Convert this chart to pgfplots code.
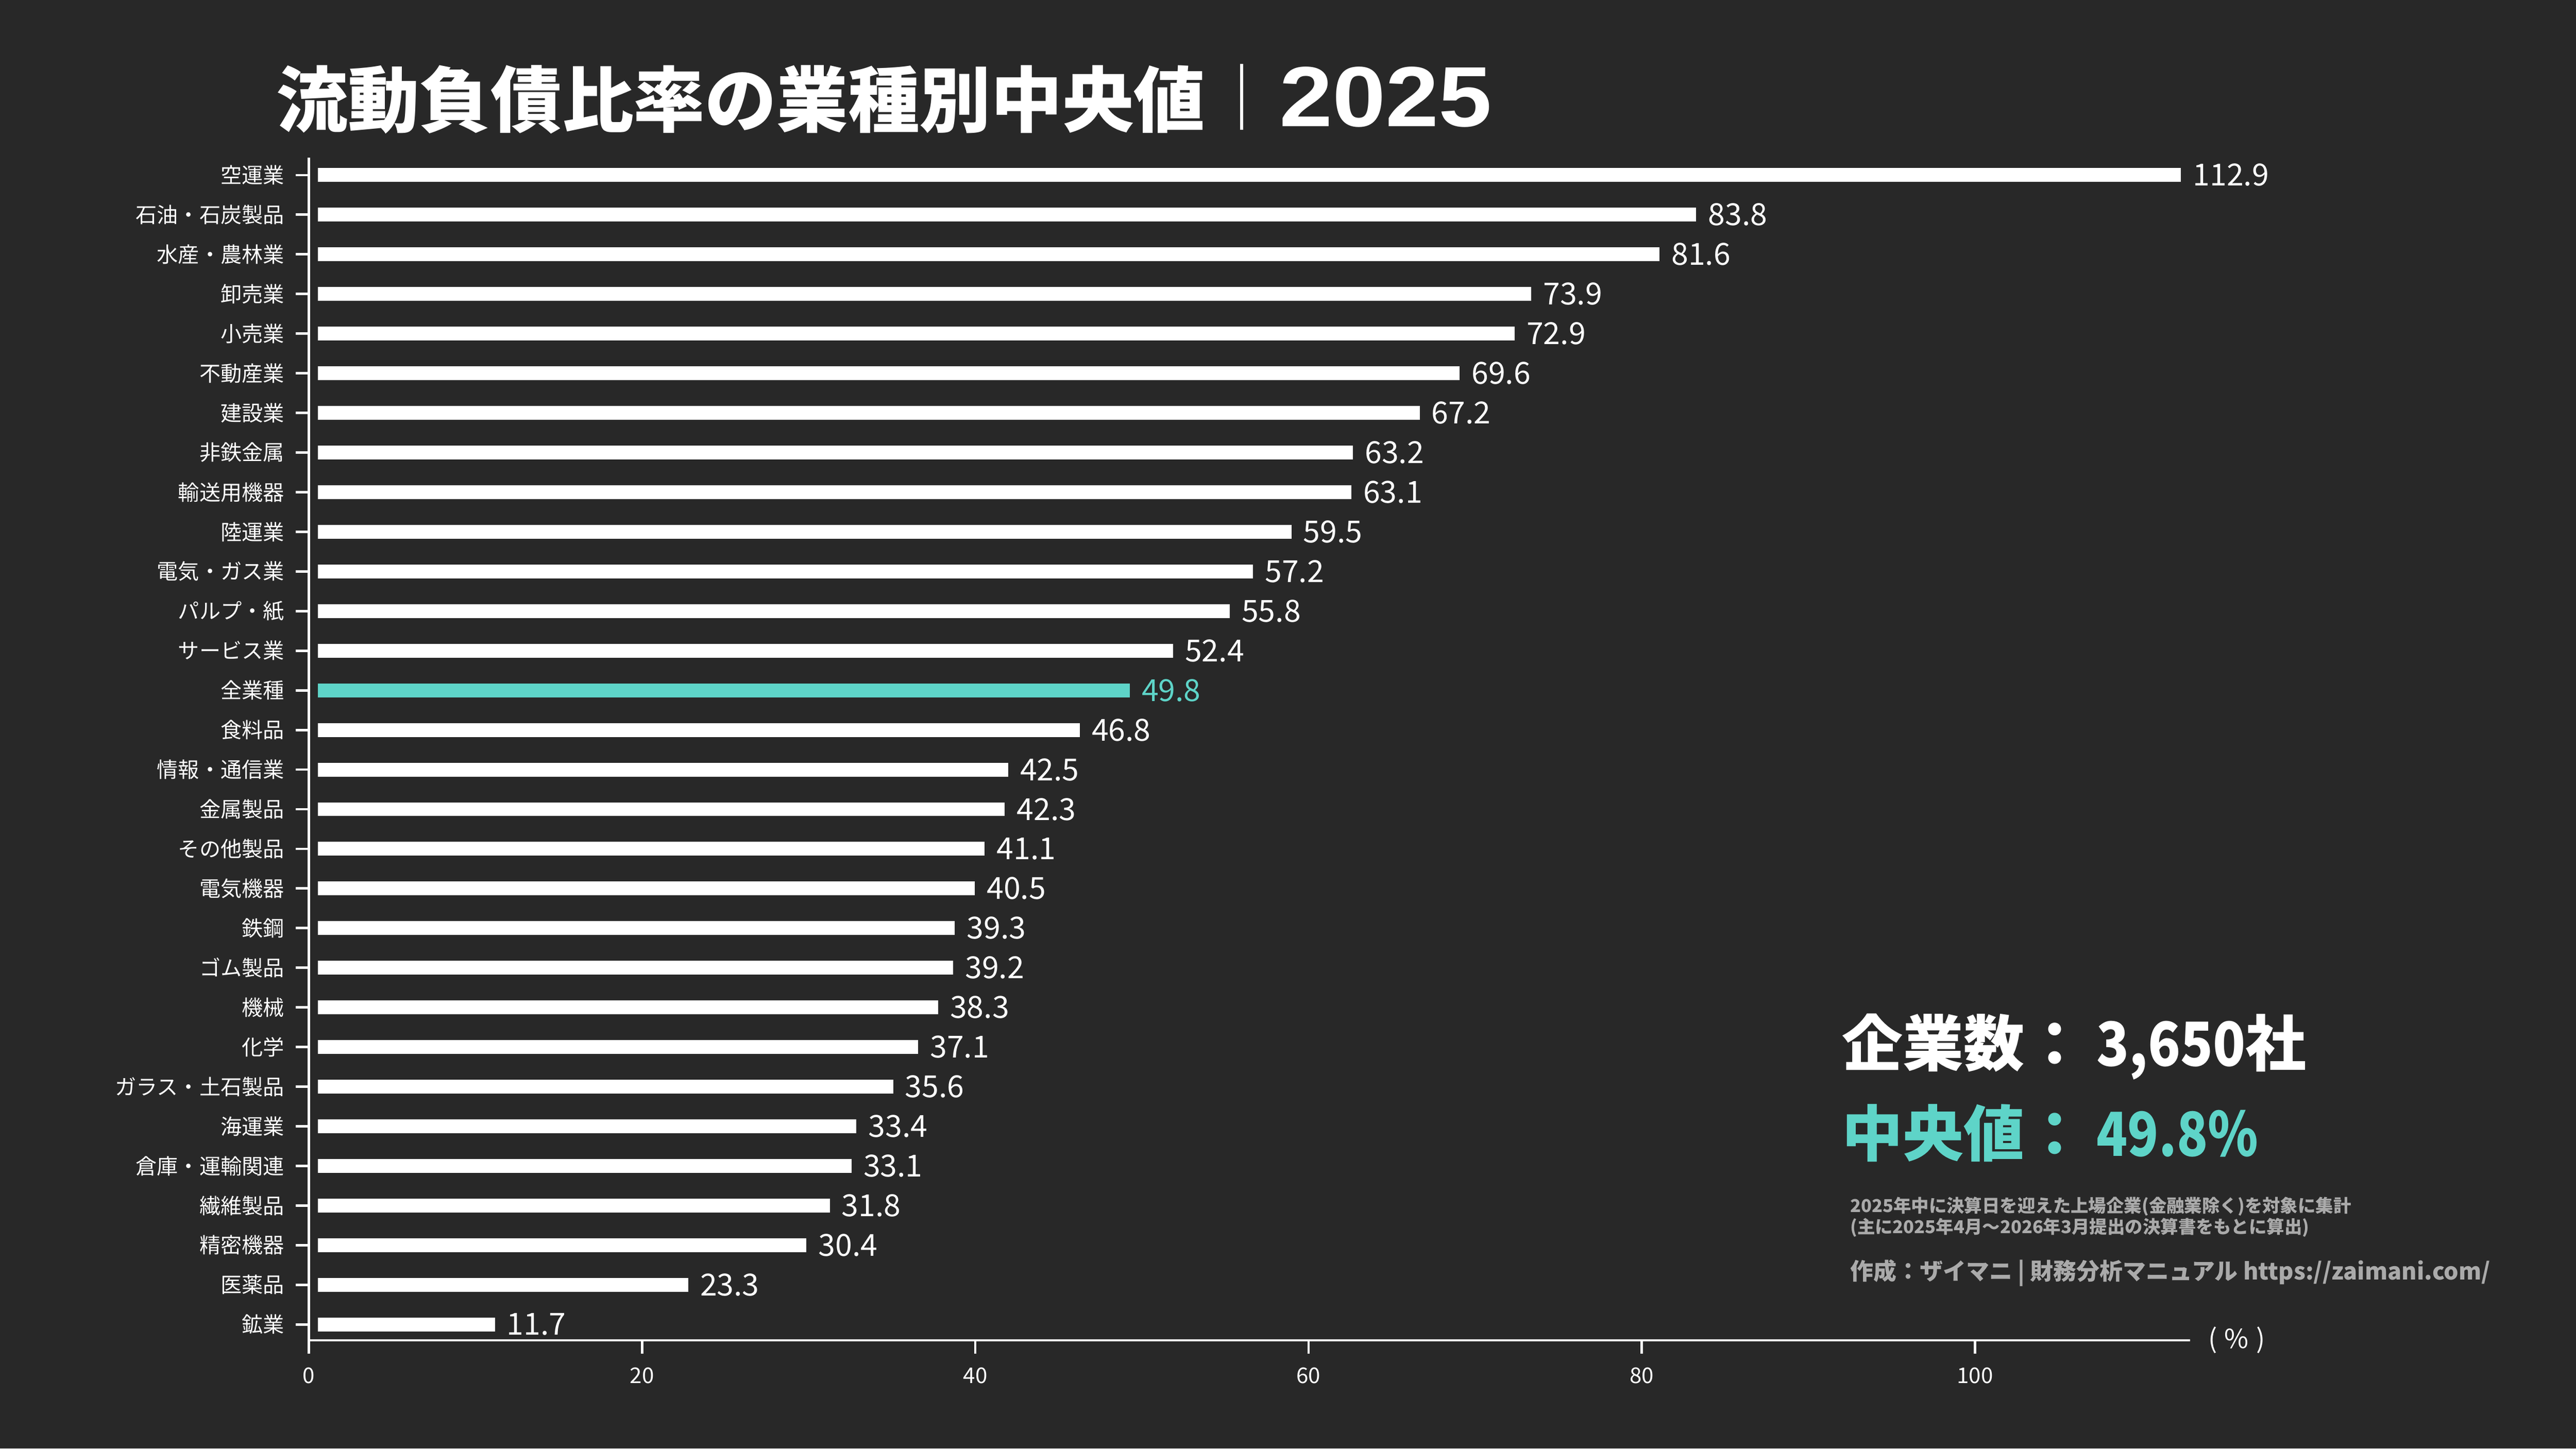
\documentclass[border=0pt]{standalone}
\usepackage{fontspec}
\usepackage{pgfplots}
\pgfplotsset{compat=1.18}
\setmainfont{Noto Sans CJK JP}
\newfontfamily\jpblack{Noto Sans CJK JP Black}
\newfontfamily\numA{Noto Sans CJK JP}[FakeStretch=0.88]
\newfontfamily\numB{Noto Sans CJK JP}[FakeStretch=0.84]
\newfontfamily\yearfont{Liberation Sans}[FakeStretch=1.12]
\definecolor{bg}{HTML}{282828}
\definecolor{accent}{HTML}{5ED4C8}
\definecolor{note}{HTML}{AAAAAA}
\pgfkeys{/pgf/number format/assume math mode=true}
\begin{document}
\begin{tikzpicture}[x=1pt,y=1pt]
\fill[bg] (0,0) rectangle (1568,882);
\useasboundingbox (0,0) rectangle (1568,882);
\begin{axis}[
  at={(188pt,66pt)}, anchor=south west,
  scale only axis, width=1145pt, height=720pt,
  xmin=0, xmax=112.9, ymin=-0.4, ymax=29.44,
  axis on top,
  axis x line*=bottom, axis y line*=left,
  axis line style={draw=white, line width=1.5pt, -},
  xtick={0,20,40,60,80,100},
  ytick={0,...,29},
  yticklabels={鉱業,医薬品,精密機器,繊維製品,倉庫・運輸関連,海運業,ガラス・土石製品,化学,機械,ゴム製品,鉄鋼,電気機器,その他製品,金属製品,情報・通信業,食料品,全業種,サービス業,パルプ・紙,電気・ガス業,陸運業,輸送用機器,非鉄金属,建設業,不動産業,小売業,卸売業,水産・農林業,石油・石炭製品,空運業},
  tick align=outside, major tick length=8pt,
  tick style={draw=white, line width=1.5pt},
  xticklabel style={font=\fontsize{13.2}{13.2}\selectfont, text=white, yshift=-5pt},
  yticklabel style={font=\fontsize{12.9}{12.9}\selectfont, text=white, xshift=-3.5pt},
  xbar, bar width=19.26pt, bar shift=0pt,
  point meta=x,
  nodes near coords={\pgfmathprintnumber[fixed,fixed zerofill,precision=1]{\pgfplotspointmeta}},
  every node near coord/.append style={font=\fontsize{18.5}{18.5}\selectfont, anchor=west, inner sep=0pt, xshift=-3.5pt},
  clip=false,
]
\addplot[fill=white, draw=bg, line width=10.8pt, nodes near coords style={text=white}] coordinates {
(11.7,0) (23.3,1) (30.4,2) (31.8,3) (33.1,4) (33.4,5) (35.6,6) (37.1,7) (38.3,8) (39.2,9)
(39.3,10) (40.5,11) (41.1,12) (42.3,13) (42.5,14) (46.8,15)
(52.4,17) (55.8,18) (57.2,19) (59.5,20) (63.1,21) (63.2,22) (67.2,23) (69.6,24) (72.9,25)
(73.9,26) (81.6,27) (83.8,28) (112.9,29)
};
\addplot[fill=accent, draw=bg, line width=10.8pt, nodes near coords style={text=accent}] coordinates {(49.8,16)};
\node[anchor=west, inner sep=0pt, text=white, font=\fontsize{16}{16}\selectfont] at (rel axis cs:1,0) [xshift=11pt] {(\hspace{0.28em}\%\hspace{0.28em})};
\end{axis}
\node[anchor=base west, inner sep=0pt, text=white] at (168,805) {\jpblack\fontsize{43.5}{43.5}\selectfont 流動負債比率の業種別中央値\hspace{21pt}\rule[-2pt]{2pt}{40pt}\hspace{22pt}{\yearfont\bfseries\fontsize{52}{52}\selectfont 2025}};
\node[anchor=base west, inner sep=0pt, text=white] at (1121,233) {\bfseries\fontsize{37}{37}\selectfont 企業数：\hspace{7pt}{\numA\bfseries 3,650}社};
\node[anchor=base west, inner sep=0pt, text=accent] at (1121,178) {\bfseries\fontsize{37}{37}\selectfont 中央値：\hspace{7pt}{\numB\bfseries 49.8\%}};
\node[anchor=base west, inner sep=0pt, text=note] at (1126,144) {\bfseries\fontsize{10.8}{10.8}\selectfont 2025年中に決算日を迎えた上場企業(金融業除く)を対象に集計};
\node[anchor=base west, inner sep=0pt, text=note] at (1126,131) {\bfseries\fontsize{10.8}{10.8}\selectfont (主に2025年4月～2026年3月提出の決算書をもとに算出)};
\node[anchor=base west, inner sep=0pt, text=note] at (1126,103) {\bfseries\fontsize{14.1}{14.1}\selectfont 作成：ザイマニ | 財務分析マニュアル https://zaimani.com/};
\end{tikzpicture}
\end{document}
